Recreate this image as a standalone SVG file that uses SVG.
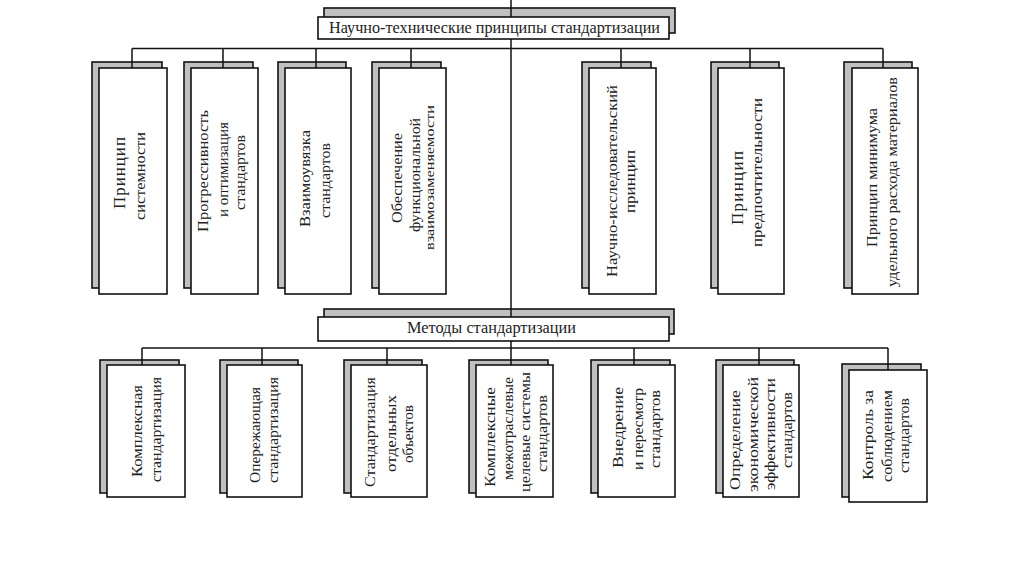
<svg xmlns="http://www.w3.org/2000/svg" width="1024" height="574" viewBox="0 0 1024 574">
<style>
.sh{fill:#c0c0c0;stroke:#111;stroke-width:1.6}
.fr{fill:#fff;stroke:#111;stroke-width:1.6}
.cn{stroke:#111;stroke-width:1.5;fill:none}
.t{font-family:"Liberation Serif","Times New Roman",serif;font-size:15px;fill:#222}
.s{font-size:13px}
.b{font-size:17px}
</style>
<rect width="1024" height="574" fill="#fff"/>

<g id="header-principles">
<rect class="sh" x="324" y="8" width="351" height="25"/>
<rect class="fr" x="318" y="17" width="351" height="22"/>
<text class="t" x="329" y="33" style="font-size:16.5px" textLength="331" lengthAdjust="spacingAndGlyphs">Научно-технические принципы стандартизации</text>
</g>

<g id="p1">
<rect class="sh" x="92" y="62" width="70" height="226"/>
<rect class="fr" x="99" y="68" width="68" height="226"/>
<text class="t b" transform="translate(125,209) rotate(-90)" textLength="72" lengthAdjust="spacing">Принцип</text>
<text class="t" transform="translate(144.5,220) rotate(-90)" textLength="88" lengthAdjust="spacingAndGlyphs">системности</text>
</g>
<g id="p2">
<rect class="sh" x="184" y="62" width="69" height="226"/>
<rect class="fr" x="191" y="68" width="67" height="226"/>
<text class="t" transform="translate(207.5,232) rotate(-90)" textLength="122" lengthAdjust="spacingAndGlyphs">Прогрессивность</text>
<text class="t" transform="translate(227.5,217) rotate(-90)" textLength="95" lengthAdjust="spacingAndGlyphs">и оптимизация</text>
<text class="t" transform="translate(244.5,210) rotate(-90)" textLength="75" lengthAdjust="spacingAndGlyphs">стандартов</text>
</g>
<g id="p3">
<rect class="sh" x="278" y="62" width="68" height="226"/>
<rect class="fr" x="285" y="68" width="66" height="226"/>
<text class="t" transform="translate(309.5,227) rotate(-90)" textLength="97" lengthAdjust="spacingAndGlyphs">Взаимоувязка</text>
<text class="t" transform="translate(329.5,218) rotate(-90)" textLength="75" lengthAdjust="spacingAndGlyphs">стандартов</text>
</g>
<g id="p4">
<rect class="sh" x="372" y="62" width="69" height="226"/>
<rect class="fr" x="379" y="68" width="67" height="226"/>
<text class="t" transform="translate(401.5,223) rotate(-90)" textLength="90" lengthAdjust="spacingAndGlyphs">Обеспечение</text>
<text class="t" transform="translate(419.5,232) rotate(-90)" textLength="114" lengthAdjust="spacingAndGlyphs">функциональной</text>
<text class="t s" transform="translate(434,250) rotate(-90)" textLength="145" lengthAdjust="spacingAndGlyphs">взаимозаменяемости</text>
</g>
<g id="p5">
<rect class="sh" x="582" y="62" width="69" height="226"/>
<rect class="fr" x="589" y="68" width="67" height="226"/>
<text class="t" transform="translate(616.5,277) rotate(-90)" textLength="192" lengthAdjust="spacingAndGlyphs">Научно-исследовательский</text>
<text class="t" transform="translate(634.5,213) rotate(-90)" textLength="63" lengthAdjust="spacingAndGlyphs">принцип</text>
</g>
<g id="p6">
<rect class="sh" x="711" y="62" width="68" height="226"/>
<rect class="fr" x="718" y="68" width="66" height="226"/>
<text class="t b" transform="translate(743,225) rotate(-90)" textLength="74" lengthAdjust="spacing">Принцип</text>
<text class="t" transform="translate(761.5,247) rotate(-90)" textLength="149" lengthAdjust="spacingAndGlyphs">предпочтительности</text>
</g>
<g id="p7">
<rect class="sh" x="844" y="62" width="68" height="226"/>
<rect class="fr" x="852" y="68" width="66" height="226"/>
<text class="t" transform="translate(876.5,247) rotate(-90)" textLength="139" lengthAdjust="spacingAndGlyphs">Принцип минимума</text>
<text class="t" transform="translate(896.5,287) rotate(-90)" textLength="210" lengthAdjust="spacingAndGlyphs">удельного расхода материалов</text>
</g>

<g id="header-methods">
<rect class="sh" x="324" y="309" width="350" height="25"/>
<rect class="fr" x="318" y="317" width="351" height="24"/>
<text class="t" x="407" y="333" style="font-size:16.5px" textLength="169" lengthAdjust="spacingAndGlyphs">Методы стандартизации</text>
</g>

<g id="m1">
<rect class="sh" x="100" y="360" width="79" height="133"/>
<rect class="fr" x="107" y="365" width="78" height="132"/>
<text class="t" transform="translate(141.5,477) rotate(-90)" textLength="92" lengthAdjust="spacingAndGlyphs">Комплексная</text>
<text class="t" transform="translate(160.5,482) rotate(-90)" textLength="105" lengthAdjust="spacingAndGlyphs">стандартизация</text>
</g>
<g id="m2">
<rect class="sh" x="220" y="360" width="78" height="133"/>
<rect class="fr" x="227" y="365" width="75" height="132"/>
<text class="t" transform="translate(259.5,483) rotate(-90)" textLength="96" lengthAdjust="spacingAndGlyphs">Опережающая</text>
<text class="t" transform="translate(277.5,483) rotate(-90)" textLength="106" lengthAdjust="spacingAndGlyphs">стандартизация</text>
</g>
<g id="m3">
<rect class="sh" x="344" y="360" width="78" height="133"/>
<rect class="fr" x="351" y="365" width="76" height="132"/>
<text class="t" transform="translate(374.5,487) rotate(-90)" textLength="110" lengthAdjust="spacingAndGlyphs">Стандартизация</text>
<text class="t" transform="translate(395.5,472) rotate(-90)" textLength="77" lengthAdjust="spacingAndGlyphs">отдельных</text>
<text class="t" transform="translate(412.5,463) rotate(-90)" textLength="58" lengthAdjust="spacingAndGlyphs">объектов</text>
</g>
<g id="m4">
<rect class="sh" x="469" y="360" width="79" height="133"/>
<rect class="fr" x="476" y="365" width="77" height="132"/>
<text class="t" transform="translate(494.5,487) rotate(-90)" textLength="100" lengthAdjust="spacingAndGlyphs">Комплексные</text>
<text class="t" transform="translate(512.5,480) rotate(-90)" textLength="103" lengthAdjust="spacingAndGlyphs">межотраслевые</text>
<text class="t" transform="translate(529.5,492) rotate(-90)" textLength="120" lengthAdjust="spacingAndGlyphs">целевые системы</text>
<text class="t" transform="translate(546.5,472) rotate(-90)" textLength="77" lengthAdjust="spacingAndGlyphs">стандартов</text>
</g>
<g id="m5">
<rect class="sh" x="591" y="360" width="79" height="133"/>
<rect class="fr" x="598" y="365" width="77" height="132"/>
<text class="t" transform="translate(622.5,468) rotate(-90)" textLength="81" lengthAdjust="spacingAndGlyphs">Внедрение</text>
<text class="t" transform="translate(642.5,470) rotate(-90)" textLength="82" lengthAdjust="spacingAndGlyphs">и пересмотр</text>
<text class="t" transform="translate(659.5,468) rotate(-90)" textLength="78" lengthAdjust="spacingAndGlyphs">стандартов</text>
</g>
<g id="m6">
<rect class="sh" x="716" y="360" width="78" height="133"/>
<rect class="fr" x="723" y="365" width="76" height="132"/>
<text class="t" transform="translate(739.5,490) rotate(-90)" textLength="100" lengthAdjust="spacingAndGlyphs">Определение</text>
<text class="t" transform="translate(757.5,492) rotate(-90)" textLength="115" lengthAdjust="spacingAndGlyphs">экономической</text>
<text class="t" transform="translate(774.5,490) rotate(-90)" textLength="112" lengthAdjust="spacingAndGlyphs">эффективности</text>
<text class="t" transform="translate(791.5,468) rotate(-90)" textLength="76" lengthAdjust="spacingAndGlyphs">стандартов</text>
</g>
<g id="m7">
<rect class="sh" x="842" y="364" width="79" height="133"/>
<rect class="fr" x="849" y="370" width="78" height="132"/>
<text class="t" transform="translate(872.5,480) rotate(-90)" textLength="90" lengthAdjust="spacingAndGlyphs">Контроль за</text>
<text class="t" transform="translate(891.5,482) rotate(-90)" textLength="92" lengthAdjust="spacingAndGlyphs">соблюдением</text>
<text class="t" transform="translate(908.5,473) rotate(-90)" textLength="75" lengthAdjust="spacingAndGlyphs">стандартов</text>
</g>

<g id="connectors" class="cn">
<path d="M511 0V17M511 39V317M511 341V365"/>
<path d="M132 48.5H883"/>
<path d="M132 48.5V68M223 48.5V68M316 48.5V68M411 48.5V68M621 48.5V68M750 48.5V68M883 48.5V68"/>
<path d="M142 348H888"/>
<path d="M142 348V365M262 348V365M387 348V365M634 348V365M759 348V365M888 348V370"/>
</g>
</svg>
